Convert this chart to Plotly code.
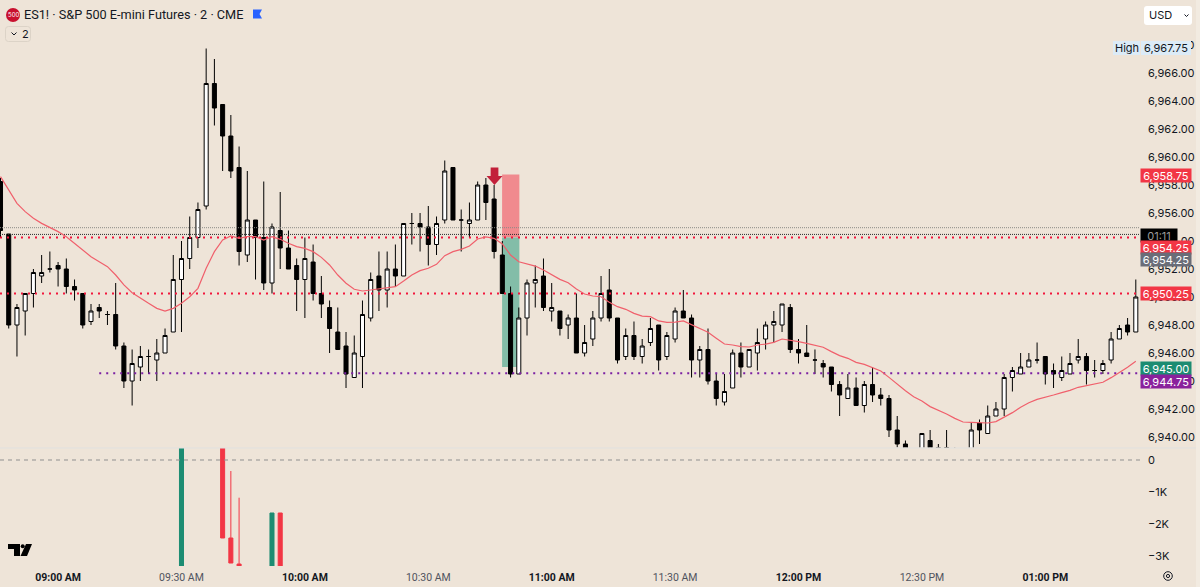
import plotly.graph_objects as go

opens = [6958.25,6954.5,6948,6949,6950.25,6951.5,6952,6952.25,6952,6950.75,
6950.25,6948.25,6949.25,6948.75,6948.75,6946.5,6944,6945,6945.75,6945.5,
6946,6947.5,6951.25,6952.75,6954.25,6956.5,6965.25,6963.75,6961.5,6959.25,
6953,6955.5,6954.25,6951,6954.75,6953.5,6952.25,6951.25,6952.5,6950.25,
6949.25,6947.5,6946.5,6944.25,6945.75,6948.5,6951.5,6950.5,6952,6951.5,
6955.25,6955.25,6955,6953.75,6955.5,6959.25,6955.5,6955.25,6955.5,6958,
6957,6953,6950.25,6944.5,6948.5,6951,6951.5,6949,6949,6948,
6948.5,6946,6947,6948.5,6950.5,6948.5,6945.75,6947.25,6945.75,6946.75,
6948,6945.75,6947,6949,6948.5,6945.5,6946.25,6944,6942.5,6943.5,
6946,6945,6946,6947,6948,6948,6949.25,6946.25,6946,6945.5,
6945.25,6945,6943.75,6942.75,6943.5,6942.25,6943.75,6943,6942.75,6940.5,
6939.5,6939,6939,6939.75,6938.75,6939.25,6938.75,6938.5,6938.5,6941,
6940.25,6941.5,6942,6944.25,6944.5,6945,6945.5,6945.75,6944.75,6944.25,
6944.5,6945.5,6945.75,6944.75,6944.75,6945.5,6947,6948,6947.5]
highs = [6958.5,6954.5,6949.5,6950.25,6952,6953,6953.25,6952.5,6952.75,6951.25,
6950.25,6949.5,6949.5,6949,6951,6946.75,6946.25,6946.5,6946.25,6947,
6947.75,6953,6954,6955.75,6956.75,6967.75,6967,6963.75,6963,6960.75,
6959,6955.5,6958.25,6955.25,6957.5,6954.75,6952.75,6954.25,6953.75,6951.5,
6949.75,6949.25,6947.5,6947.25,6949.75,6951.75,6953.25,6953.25,6953.75,6955.25,
6956,6956,6956.5,6955.75,6959.75,6959.25,6956.25,6956.75,6958.25,6958.5,
6958,6954,6950.75,6949.25,6951.25,6952.25,6952.75,6951,6949,6948.75,
6950.25,6948,6949,6951.5,6952,6948.5,6947.75,6948.25,6947,6948.5,
6948,6947.5,6949.25,6950.5,6948.75,6946.5,6947.75,6944.5,6944.5,6946.25,
6946.75,6946.25,6947.75,6948.25,6949,6949.5,6949.5,6947,6948,6946.25,
6945.5,6945,6944,6944.5,6944.25,6944,6945,6943.5,6943,6941.5,
6939.75,6939,6940.25,6940.5,6939.5,6940.5,6939.25,6939,6941,6941.25,
6942.25,6942.5,6944.5,6945,6946,6946,6946.75,6945.75,6945.25,6945.75,
6946,6947,6946,6945.5,6945.5,6947.5,6948,6948.5,6951.25]
lows = [6954.25,6947.75,6945.75,6947.25,6949.25,6951,6951.75,6950.75,6950.25,6949.75,
6947.75,6948,6948.5,6948,6946.25,6943.5,6942.25,6944,6944.5,6944,
6946,6947.5,6947.5,6952,6953.5,6956.25,6962.25,6959,6958.5,6952.25,
6952.5,6951.25,6950.5,6950.25,6952,6952,6949,6948.5,6949.75,6948.5,
6946,6946.25,6943.5,6944.25,6943.5,6948.25,6949,6949.25,6950.75,6951.5,
6953.75,6953.25,6952.25,6953,6955.25,6955.5,6953.25,6954.25,6955.5,6955.5,
6952.75,6950.25,6944.25,6944.5,6947.25,6949.25,6949,6948.25,6947.25,6947,
6946,6945.75,6946.5,6948.25,6948.25,6945.25,6945.5,6945.5,6945.25,6946.5,
6944.75,6945.5,6946.75,6948.5,6944.25,6944.25,6943.75,6942.25,6942.25,6943.5,
6944.25,6945,6944.75,6946.25,6946.75,6947.5,6946,6945.25,6945.75,6944.5,
6944.25,6943.25,6941.5,6942.75,6942.25,6941.75,6942.5,6942.25,6940,6939.25,
6938.75,6938.25,6938.75,6938.5,6938.5,6938.25,6938.25,6938.25,6938.25,6939.5,
6940.25,6941.5,6941.5,6943.25,6944.5,6945,6945.25,6943.75,6943.5,6944,
6944.5,6945.25,6943.75,6944.25,6944.5,6945.25,6947,6947.25,6947.5]
closes = [6954.75,6948,6949.25,6950.25,6951.75,6951.75,6952,6952,6950.75,6950.5,
6948,6949,6949,6948.75,6946.5,6944,6945.25,6945.75,6945.75,6946,
6947.25,6951.25,6952.75,6954.25,6956.25,6965.25,6963.5,6961.5,6959,6953.25,
6955.5,6954.25,6951,6955,6953.5,6952,6951.25,6952.75,6950.25,6949.5,
6947.75,6946.25,6944.5,6946,6948.75,6951.25,6950.5,6952,6951.5,6955.25,
6955.25,6955,6953.75,6955.25,6959,6955.5,6955.5,6955.5,6958,6956.75,
6953.25,6950.25,6944.5,6948.5,6951,6951.25,6949.25,6949.25,6947.75,6948.5,
6946,6946.75,6948.5,6950.25,6948.5,6945.5,6947.25,6945.75,6946.5,6947.75,
6945.5,6947.25,6949,6948.5,6945.5,6946.25,6944,6942.75,6943.25,6946,
6945,6946.25,6946.75,6948,6948.25,6949.5,6946.25,6946,6945.75,6945.5,
6945,6943.75,6943,6943.5,6942.25,6943.75,6943,6942.75,6940.5,6939.5,
6939,6938.5,6940.25,6939,6939.25,6938.75,6938.5,6938.75,6940.5,6940.5,
6941.5,6942,6944.25,6944.75,6945,6945.5,6945.5,6944.5,6944.5,6944.75,
6945.25,6945.75,6944.75,6944.75,6945.25,6947,6947.75,6947.5,6950]
ma = [6958.6,6957.64,6956.69,6956.1,6955.62,6955.26,6954.98,6954.67,6954.31,6953.84,
6953.31,6952.88,6952.52,6952.17,6951.57,6950.86,6950.31,6949.9,6949.55,6949.19,
6949,6949.19,6949.55,6950.02,6950.62,6952.05,6953.24,6954.07,6954.36,6954.19,
6954.31,6954.31,6954.07,6954.31,6954.12,6953.84,6953.6,6953.47,6953.24,6952.83,
6952.29,6951.57,6950.98,6950.55,6950.43,6950.5,6950.57,6950.67,6950.74,6951.14,
6951.57,6951.88,6952.05,6952.33,6952.95,6953.24,6953.4,6953.64,6954.14,6954.29,
6954.19,6953.79,6953,6952.52,6952.36,6952.21,6951.93,6951.57,6951.26,6951.02,
6950.57,6950.21,6950.07,6950.02,6949.62,6949.31,6949.12,6948.83,6948.64,6948.6,
6948.29,6948.19,6948.21,6948.29,6948,6947.76,6947.48,6947.05,6946.64,6946.57,
6946.45,6946.43,6946.57,6946.64,6946.76,6947,6946.93,6946.81,6946.69,6946.57,
6946.41,6946.1,6945.81,6945.62,6945.33,6945.19,6944.95,6944.72,6944.26,6943.76,
6943.31,6942.88,6942.57,6942.17,6941.93,6941.64,6941.33,6941.07,6941.05,6941,
6941,6941.1,6941.41,6941.74,6942.12,6942.45,6942.69,6942.83,6943,6943.17,
6943.33,6943.55,6943.67,6943.76,6943.91,6944.24,6944.6,6944.98,6945.41]

delta_bars = [22, 27, 28, 29, 33, 34]
delta_open = [-3400, 500, -2437, -3250, -3400, -1656]
delta_high = [500, 500, -344, -1178, -1656, -1656]
delta_low = [-3400, -2437, -3219, -3400, -3400, -3400]
delta_close = [500, -2437, -3219, -3400, -1656, -3400]

x_tick_bars = [7, 22, 37, 52, 67, 82, 97, 112, 127]
x_tick_text = ["09:00 AM", "09:30 AM", "10:00 AM", "10:30 AM", "11:00 AM",
               "11:30 AM", "12:00 PM", "12:30 PM", "01:00 PM"]
x_tick_major = [True, False, True, False, True, False, True, False, True]
price_ticks = [6940, 6942, 6944, 6946, 6948, 6950, 6952, 6954, 6956, 6958, 6960, 6962, 6964, 6966, 6968]
delta_ticks = [0, -1000, -2000, -3000]
delta_tick_text = ["0", "−1K", "−2K", "−3K"]

red_levels = [6954.25, 6950.25]
purple_level = 6944.55
session_levels = [6954.95, 6954.47]
target_top, entry_price, stop_bottom = 6958.75, 6954.25, 6945.0
price_labels = [("6,958.75", 175, "#f23645", "#ffffff", 50), ("01:11", 235, "#000000", "#9a9a9a", 36),
                ("6,954.25", 247, "#f23645", "#ffffff", 50), ("6,954.25", 260, "#6a6d78", "#ffffff", 50),
                ("6,950.25", 293, "#f23645", "#ffffff", 50), ("6,945.00", 368, "#1c8c72", "#ffffff", 50),
                ("6,944.75", 381, "#8a219c", "#ffffff", 50)]

BG = "#eee4d8"
INK = "#131722"
FONT = "Inter, 'Noto Sans', sans-serif"
NARROW = "Roboto, Inter, sans-serif"
W, H, PW, PH = 1200, 587, 1140, 566
px = lambda v: v / PW
py = lambda v: 1 - v / PH
bars = list(range(len(opens)))
X0, X1 = -0.061, 138.51

fig = go.Figure()
fig.add_trace(go.Candlestick(x=bars, open=opens, high=highs, low=lows, close=closes, xaxis="x", yaxis="y",
    increasing=dict(line=dict(color="#000000", width=1), fillcolor="#ffffff"),
    decreasing=dict(line=dict(color="#000000", width=1), fillcolor="#000000"), showlegend=False))
for lvl, col in zip(session_levels, ["#8a8a86", "#2a2a2a"]):
    fig.add_trace(go.Scatter(x=[X0, X1], y=[lvl, lvl], mode="lines", xaxis="x", yaxis="y",
                             line=dict(color=col, width=1, dash="1px,1px"), showlegend=False))
for lvl in red_levels:
    fig.add_trace(go.Scatter(x=[X0, X1], y=[lvl, lvl], mode="lines", xaxis="x", yaxis="y",
                             line=dict(color="#f2163c", width=2, dash="2px,5px"), showlegend=False))
fig.add_trace(go.Scatter(x=[12, X1], y=[purple_level, purple_level], mode="lines", xaxis="x", yaxis="y",
                         line=dict(color="#7b1fa2", width=2, dash="2px,5px"), showlegend=False))
fig.add_trace(go.Scatter(x=bars, y=ma, mode="lines", xaxis="x", yaxis="y",
                         line=dict(color="#f0606c", width=1.2), showlegend=False))
fig.add_trace(go.Candlestick(x=delta_bars, open=delta_open, high=delta_high, low=delta_low, close=delta_close,
    xaxis="x", yaxis="y2",
    increasing=dict(line=dict(color="#1c8c72", width=1), fillcolor="#1c8c72"),
    decreasing=dict(line=dict(color="#f23645", width=1), fillcolor="#f23645"), showlegend=False))
fig.add_trace(go.Scatter(x=[X0, X1], y=[0, 0], mode="lines", xaxis="x", yaxis="y2",
                         line=dict(color="#8f8f8f", width=1, dash="4px,4px"), showlegend=False))

shapes = [
    dict(type="rect", xref="x", yref="y", x0=60.97, x1=63.07, y0=entry_price, y1=target_top,
         fillcolor="#f08a8e", line_width=0, layer="below"),
    dict(type="rect", xref="x", yref="y", x0=60.97, x1=63.07, y0=stop_bottom, y1=entry_price,
         fillcolor="#83bda8", line_width=0, layer="below"),
]
ax, ay_top, ay_mid, ay_tip = 60.05, 6959.25, 6958.65, 6958.0
shapes.append(dict(type="path", xref="x", yref="y", fillcolor="#c2203a", line_width=0,
    path=f"M {ax-.47} {ay_top} L {ax+.47} {ay_top} L {ax+.47} {ay_mid} L {ax+.97} {ay_mid} "
         f"L {ax} {ay_tip} L {ax-.97} {ay_mid} L {ax-.47} {ay_mid} Z"))

def ppath(points):
    return "M " + " L ".join(f"{px(a)} {py(b)}" for a, b in points) + " Z"

def rrect(x0, y0, x1, y1, r):
    return (f"M {px(x0+r)} {py(y0)} L {px(x1-r)} {py(y0)} Q {px(x1)} {py(y0)} {px(x1)} {py(y0+r)} "
            f"L {px(x1)} {py(y1-r)} Q {px(x1)} {py(y1)} {px(x1-r)} {py(y1)} L {px(x0+r)} {py(y1)} "
            f"Q {px(x0)} {py(y1)} {px(x0)} {py(y1-r)} L {px(x0)} {py(y0+r)} Q {px(x0)} {py(y0)} {px(x0+r)} {py(y0)} Z")

def pshape(path, fill=None, line=None, width=0):
    d = dict(type="path", xref="paper", yref="paper", path=path, line=dict(width=width, color=line or "rgba(0,0,0,0)"))
    d["fillcolor"] = fill or "rgba(0,0,0,0)"
    return d

def circle(cx, cy, r, fill=None, line=None, width=0):
    return dict(type="circle", xref="paper", yref="paper", x0=px(cx-r), x1=px(cx+r), y0=py(cy+r), y1=py(cy-r),
                fillcolor=fill or "rgba(0,0,0,0)", line=dict(width=width, color=line or "rgba(0,0,0,0)"))

shapes += [
    dict(type="line", xref="paper", yref="paper", x0=0, x1=px(1196), y0=py(448), y1=py(448), line=dict(color="#e0e1e0", width=1)),
    pshape(ppath([(1196, 0), (1200, 0), (1200, 587), (1196, 587)]), fill="#f2ebe1"),
    circle(13, 15, 7, fill="#c8102e"),
    pshape(ppath([(253, 9.5), (262, 9.5), (259.5, 14), (262, 18.5), (253, 18.5)]), fill="#2962ff"),
    pshape(rrect(5.5, 26.5, 30.5, 41.5, 3), line="#dcd3c7", width=1),
    pshape(f"M {px(11.5)} {py(32.5)} L {px(14)} {py(35)} L {px(16.5)} {py(32.5)}", line=INK, width=1),
    pshape(rrect(1144, 6, 1192, 25, 3), fill="#ffffff"),
    pshape(f"M {px(1184.5)} {py(14.5)} L {px(1186.5)} {py(16.5)} L {px(1188.5)} {py(14.5)}", line=INK, width=1),
    pshape(ppath([(1113, 41), (1140, 41), (1140, 55), (1113, 55)]), fill="#dcebf7"),
    pshape(ppath([(1141, 41), (1191, 41), (1191, 55), (1141, 55)]), fill="#dcebf7"),
    pshape(ppath([(8, 544), (20, 544), (20, 556), (14, 556), (14, 549), (8, 549)]), fill="#000000"),
    circle(22.7, 546.3, 2, fill="#000000"),
    pshape(ppath([(26, 544), (32, 544), (27, 556), (20.5, 556)]), fill="#000000"),
    circle(1168, 576, 4.3, line=INK, width=1),
    circle(1168, 576, 1.6, line=INK, width=1),
]

ann = [
    dict(x=px(22), y=py(15), text="ES1! · S&P 500 E-mini Futures · 2 · CME", font=dict(size=12.7, color=INK, family=NARROW), xanchor="left"),
    dict(x=px(13), y=py(15), text="500", font=dict(size=6, color="#ffffff", family="Inter"), xanchor="center"),
    dict(x=px(20), y=py(34), text="2", font=dict(size=11, color=INK), xanchor="left"),
    dict(x=px(1147), y=py(15.5), text="USD", font=dict(size=11, color=INK), xanchor="left"),
    dict(x=px(1126.5), y=py(48), text="High", font=dict(size=11, color=INK), xanchor="center"),
    dict(x=px(1166), y=py(48), text="6,967.75", font=dict(size=11, color=INK), xanchor="center"),
]
for txt, yy, bg, fg, w in price_labels:
    xc = 1141 + w / 2
    ann.append(dict(x=px(xc), y=py(yy), text=txt, font=dict(size=11, color=fg), xanchor="center",
                    bgcolor=bg, width=w, height=13, borderpad=0, align="center"))
for a in ann:
    a.update(xref="paper", yref="paper", yanchor="middle", showarrow=False)
    a["font"].setdefault("family", FONT)

fig.update_layout(
    width=W, height=H, margin=dict(l=0, r=W-PW, t=0, b=H-PH), autosize=False,
    paper_bgcolor=BG, plot_bgcolor=BG, showlegend=False, font=dict(family=FONT, color=INK),
    shapes=shapes, annotations=ann, hovermode=False,
    xaxis=dict(domain=[0, 1], range=[X0, X1], anchor="y2", rangeslider=dict(visible=False), showgrid=False,
               zeroline=False, showline=False, tickmode="array", tickvals=x_tick_bars, ticks="",
               ticktext=[f"<b>{t}</b>" if m else f'<span style="color:#50535e">{t}</span>'
                         for t, m in zip(x_tick_text, x_tick_major)],
               tickfont=dict(size=10.5, color=INK, family=NARROW), ticklabelstandoff=3),
    yaxis=dict(domain=[(PH-447.5)/PH, 1], range=[6939.25, 6971.214], side="right", anchor="x", showgrid=False,
               zeroline=False, showline=False, tickmode="array", tickvals=price_ticks, tickformat=",.2f", ticks="",
               tickfont=dict(size=11, color=INK, family=FONT), ticklabelstandoff=7),
    yaxis2=dict(domain=[0, (PH-448)/PH], range=[-3312, 375], side="right", anchor="x", showgrid=False,
                zeroline=False, showline=False, tickmode="array", tickvals=delta_ticks, ticktext=delta_tick_text, ticks="",
                tickfont=dict(size=11, color=INK, family=FONT), ticklabelstandoff=7),
)
fig.write_html("out.html", config=dict(displayModeBar=False),
               post_script="document.documentElement.style.margin='0';document.body.style.margin='0';document.body.style.overflow='hidden';")
